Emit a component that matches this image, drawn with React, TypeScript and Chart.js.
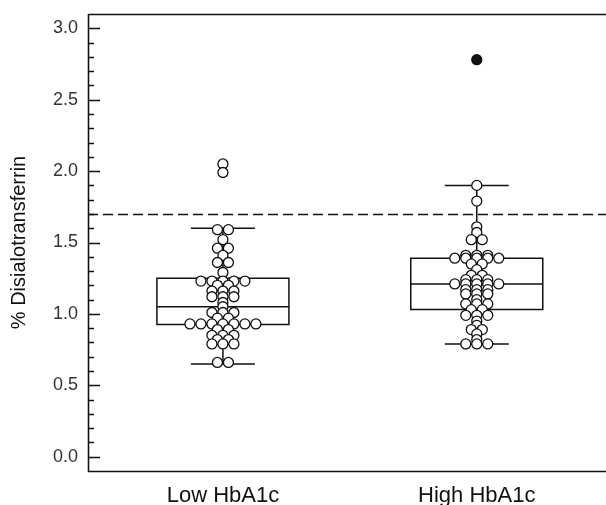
import { useEffect, useRef } from 'react';
import { Chart, registerables } from 'chart.js';

Chart.register(...registerables);

// ---------- data ----------
const categories = ['Low HbA1c', 'High HbA1c'];

const lowValues = [
  1.59, 1.59, 1.52, 1.46, 1.46, 1.41, 1.36, 1.36, 1.29,
  1.23, 1.23, 1.23, 1.23, 1.23, 1.2, 1.2, 1.16, 1.16, 1.16,
  1.12, 1.12, 1.12, 1.08, 1.05, 1.01, 1.01, 1.01, 0.97, 0.97,
  0.93, 0.93, 0.93, 0.93, 0.93, 0.93, 0.93, 0.89, 0.89,
  0.85, 0.85, 0.85, 0.82, 0.82, 0.79, 0.79, 0.79, 0.66, 0.66,
];
const lowOutliers = [2.05, 1.99];

const highValues = [
  1.9, 1.79, 1.61, 1.57, 1.52, 1.52, 1.41, 1.41, 1.41,
  1.39, 1.39, 1.39, 1.39, 1.39, 1.35, 1.35, 1.31, 1.27, 1.27,
  1.24, 1.24, 1.24, 1.21, 1.21, 1.21, 1.21, 1.21, 1.17, 1.17, 1.17,
  1.14, 1.14, 1.14, 1.1, 1.07, 1.07, 1.07, 1.03, 1.03,
  0.99, 0.99, 0.99, 0.95, 0.92, 0.89, 0.89, 0.86, 0.82, 0.79, 0.79, 0.79,
];
const highOutliers = [2.78];

const whiskerLow = [0.65, 0.79];
const quartile1 = [0.925, 1.03];
const medians = [1.05, 1.21];
const quartile3 = [1.25, 1.39];
const whiskerHigh = [1.6, 1.9];

const referenceLine = 1.7;
const yMajorTicks = [0, 0.5, 1.0, 1.5, 2.0, 2.5, 3.0];
const yMinorTicks = [
  0.1, 0.2, 0.3, 0.4, 0.6, 0.7, 0.8, 0.9, 1.1, 1.2, 1.3, 1.4,
  1.6, 1.7, 1.8, 1.9, 2.1, 2.2, 2.3, 2.4, 2.6, 2.7, 2.8, 2.9,
];

// ---------- layout constants ----------
const W = 606;
const H = 505;
const PX_PER_X = 254;
const X_MIN = 0.4685;
const X_MAX = X_MIN + 512 / PX_PER_X;
const Y_MIN = -0.1;
const Y_MAX = 3.1;
const DOT_SPACING_PX = 11;
const BOX_HALF = 0.26;
const CAP_HALF = 0.126;
const INK = '#111111';
const FONT = "'Liberation Sans', Arial, sans-serif";

// centred-row dot plot layout: points with equal value share a row, centred
function dotRows(values: number[], center: number) {
  const groups = new Map<string, number[]>();
  values.forEach((v) => {
    const k = v.toFixed(3);
    if (!groups.has(k)) groups.set(k, []);
    groups.get(k)!.push(v);
  });
  const pts: { x: number; y: number }[] = [];
  groups.forEach((arr) => {
    const n = arr.length;
    arr.forEach((v, i) => {
      const offPx = (i - (n - 1) / 2) * DOT_SPACING_PX;
      pts.push({ x: center + offPx / PX_PER_X, y: v });
    });
  });
  return pts;
}

const boxPlugin = {
  id: 'boxes',
  beforeDatasetsDraw(chart: any) {
    const { ctx, scales, chartArea } = chart;
    const x = scales.x;
    const y = scales.y;
    ctx.save();
    ctx.strokeStyle = INK;
    ctx.lineWidth = 1.5;
    // reference dashed line
    ctx.setLineDash([10, 5]);
    const ry = Math.round(y.getPixelForValue(referenceLine)) + 0.5;
    ctx.beginPath();
    ctx.moveTo(chartArea.left, ry);
    ctx.lineTo(chart.width, ry);
    ctx.stroke();
    ctx.setLineDash([]);
    categories.forEach((_, i) => {
      const c = i + 1;
      const cx = x.getPixelForValue(c);
      const bl = x.getPixelForValue(c - BOX_HALF);
      const br = x.getPixelForValue(c + BOX_HALF);
      const cl = x.getPixelForValue(c - CAP_HALF);
      const cr = x.getPixelForValue(c + CAP_HALF);
      const yq1 = y.getPixelForValue(quartile1[i]);
      const yq3 = y.getPixelForValue(quartile3[i]);
      const ym = y.getPixelForValue(medians[i]);
      const ylo = y.getPixelForValue(whiskerLow[i]);
      const yhi = y.getPixelForValue(whiskerHigh[i]);
      ctx.beginPath();
      ctx.rect(bl, yq3, br - bl, yq1 - yq3);
      ctx.moveTo(bl, ym);
      ctx.lineTo(br, ym);
      ctx.moveTo(cx, yq3);
      ctx.lineTo(cx, yhi);
      ctx.moveTo(cl, yhi);
      ctx.lineTo(cr, yhi);
      ctx.moveTo(cx, yq1);
      ctx.lineTo(cx, ylo);
      ctx.moveTo(cl, ylo);
      ctx.lineTo(cr, ylo);
      ctx.stroke();
    });
    ctx.restore();
  },
  afterDraw(chart: any) {
    const { ctx, scales, chartArea } = chart;
    const y = scales.y;
    ctx.save();
    ctx.strokeStyle = INK;
    ctx.lineWidth = 1.6;
    // frame lines (top, bottom, left) running to the right edge
    ctx.beginPath();
    ctx.moveTo(chartArea.left, chartArea.top + 0.5);
    ctx.lineTo(chart.width, chartArea.top + 0.5);
    ctx.moveTo(chartArea.left, chartArea.bottom + 0.5);
    ctx.lineTo(chart.width, chartArea.bottom + 0.5);
    ctx.moveTo(chartArea.left + 0.5, chartArea.top);
    ctx.lineTo(chartArea.left + 0.5, chartArea.bottom + 1);
    ctx.stroke();
    // inside ticks
    ctx.lineWidth = 1.5;
    ctx.beginPath();
    yMajorTicks.forEach((v) => {
      const py = Math.round(y.getPixelForValue(v)) + 0.5;
      ctx.moveTo(chartArea.left, py);
      ctx.lineTo(chartArea.left + 12, py);
    });
    yMinorTicks.forEach((v) => {
      const py = Math.round(y.getPixelForValue(v)) + 0.5;
      ctx.moveTo(chartArea.left, py);
      ctx.lineTo(chartArea.left + 6, py);
    });
    ctx.stroke();
    ctx.restore();
  },
};

export default function App() {
  const ref = useRef<HTMLCanvasElement | null>(null);

  useEffect(() => {
    if (!ref.current) return;
    const pointStyle = {
      pointRadius: 5,
      pointBorderWidth: 1.3,
      pointBorderColor: INK,
      pointBackgroundColor: '#ffffff',
      showLine: false,
    };
    const chart = new Chart(ref.current, {
      type: 'scatter',
      data: {
        datasets: [
          { label: categories[0], data: dotRows(lowValues, 1), ...pointStyle },
          {
            label: categories[0] + ' outliers',
            data: lowOutliers.map((v) => ({ x: 1, y: v })),
            ...pointStyle,
          },
          { label: categories[1], data: dotRows(highValues, 2), ...pointStyle },
          {
            label: categories[1] + ' outliers',
            data: highOutliers.map((v) => ({ x: 2, y: v })),
            ...pointStyle,
            pointBackgroundColor: INK,
          },
        ],
      },
      options: {
        animation: false,
        responsive: false,
        devicePixelRatio: 1,
        layout: { padding: { top: 14, right: 0, left: 0, bottom: 0 } },
        plugins: { legend: { display: false }, tooltip: { enabled: false } },
        scales: {
          x: {
            type: 'linear',
            min: X_MIN,
            max: X_MAX,
            grid: { display: false, drawTicks: false },
            border: { display: false },
            afterBuildTicks: (scale: any) => {
              scale.ticks = categories.map((_, i) => ({ value: i + 1 }));
            },
            afterFit: (scale: any) => {
              scale.height = 34;
              scale.paddingLeft = 0;
              scale.paddingRight = 0;
            },
            ticks: {
              autoSkip: false,
              maxRotation: 0,
              padding: 12,
              color: INK,
              font: { family: FONT, size: 22 },
              callback: (v: any) => categories[Math.round(Number(v)) - 1] ?? '',
            },
          },
          y: {
            min: Y_MIN,
            max: Y_MAX,
            grid: { display: false, drawTicks: false },
            border: { display: false },
            afterBuildTicks: (scale: any) => {
              scale.ticks = yMajorTicks.map((v) => ({ value: v }));
            },
            afterFit: (scale: any) => {
              scale.width = 88;
              scale.paddingTop = 0;
              scale.paddingBottom = 0;
            },
            title: {
              display: true,
              text: '% Disialotransferrin',
              color: INK,
              font: { family: FONT, size: 20 },
              padding: { top: 7, bottom: 0 },
            },
            ticks: {
              padding: 10,
              color: '#333333',
              font: { family: FONT, size: 18 },
              callback: (v: any) => Number(v).toFixed(1),
            },
          },
        },
      },
      plugins: [boxPlugin],
    });
    return () => chart.destroy();
  }, []);

  return (
    <div style={{ position: 'fixed', left: 0, top: 0, width: W, height: H, background: '#fff' }}>
      <canvas ref={ref} width={W} height={H} style={{ display: 'block' }} />
    </div>
  );
}
